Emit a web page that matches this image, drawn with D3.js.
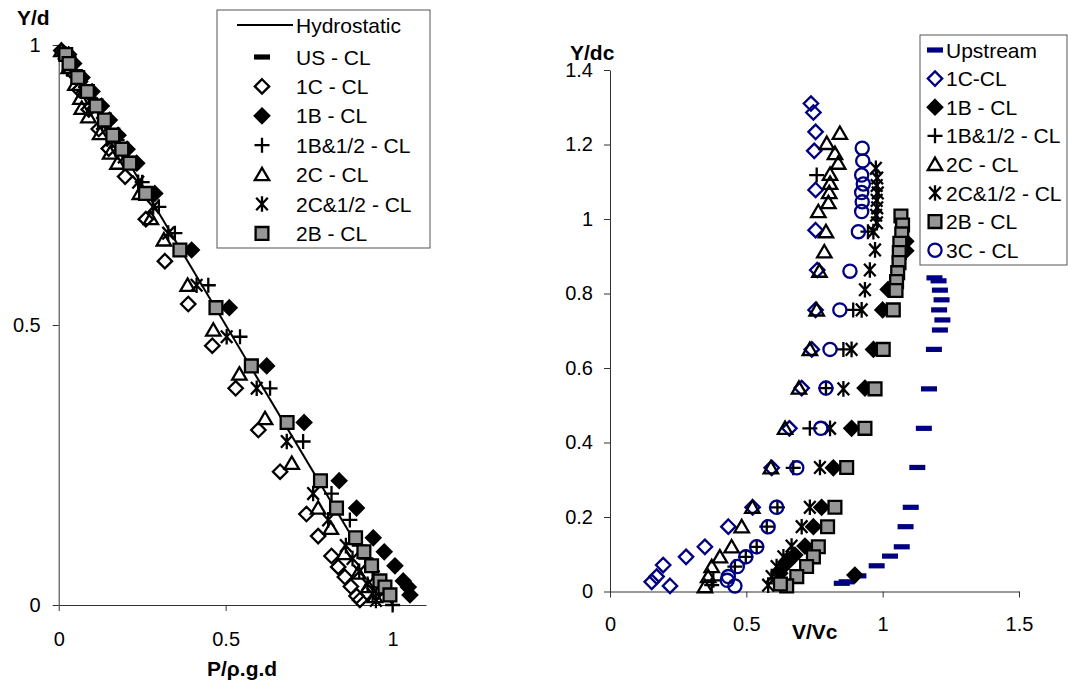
<!DOCTYPE html>
<html>
<head>
<meta charset="utf-8">
<script src="https://cdn.jsdelivr.net/npm/d3@7"></script>
<style>
  body { margin: 0; background: #fff; }
  text { font-family: "Liberation Sans", Arial, sans-serif; fill: #000; }
</style>
</head>
<body>
<svg id="chart" width="1068" height="690"></svg>
<script>
// ---------- left chart data : pressure (P/rho.g.d) vs Y/d ----------
let hydroP = [0, 1];
let hydroY = [1, 0];

let usclP = [];
let usclY = [];

let c1P = [0.008,0.035,0.062,0.09,0.12,0.15,0.199,0.261,0.318,0.388,0.46,0.53,0.598,0.663,0.742,0.777,0.817,0.837,0.857,0.875,0.892,0.902];
let c1Y = [0.99,0.955,0.92,0.885,0.85,0.815,0.765,0.689,0.614,0.5375,0.463,0.387,0.3125,0.238,0.1625,0.123,0.0875,0.068,0.05,0.033,0.016,0.009];

let b1P = [0.03,0.045,0.07,0.1,0.128,0.152,0.178,0.205,0.234,0.288,0.398,0.511,0.623,0.735,0.84,0.892,0.942,0.975,1.007,1.032,1.047,1.052];
let b1Y = [0.983,0.967,0.942,0.917,0.891,0.866,0.839,0.814,0.789,0.735,0.634,0.531,0.427,0.326,0.222,0.173,0.12,0.095,0.07,0.043,0.032,0.018];

let b1hP = [0.02,0.048,0.08,0.11,0.142,0.175,0.21,0.25,0.3,0.348,0.448,0.543,0.633,0.732,0.817,0.872,0.9,0.92,0.94,0.965,0.98,1.0];
let b1hY = [0.985,0.955,0.925,0.895,0.86,0.83,0.8,0.755,0.711,0.664,0.571,0.479,0.387,0.292,0.199,0.152,0.106,0.083,0.06,0.037,0.02,0.0];

let c2P = [0.008,0.03,0.05,0.065,0.069,0.089,0.124,0.154,0.176,0.243,0.276,0.315,0.386,0.463,0.541,0.618,0.698,0.777,0.815,0.855,0.897,0.927,0.947];
let c2Y = [0.99,0.96,0.93,0.905,0.887,0.872,0.842,0.807,0.789,0.735,0.69,0.652,0.571,0.491,0.4125,0.333,0.253,0.173,0.137,0.092,0.057,0.033,0.015];

let c2hP = [0.015,0.04,0.07,0.1,0.13,0.16,0.195,0.238,0.283,0.328,0.413,0.503,0.593,0.683,0.762,0.807,0.86,0.88,0.9,0.925,0.94,0.95];
let c2hY = [0.985,0.955,0.925,0.895,0.86,0.83,0.8,0.755,0.711,0.664,0.571,0.479,0.387,0.292,0.199,0.152,0.106,0.083,0.06,0.037,0.02,0.008];

let b2P = [0.021,0.031,0.057,0.086,0.112,0.137,0.162,0.189,0.213,0.26,0.363,0.471,0.577,0.684,0.784,0.832,0.889,0.914,0.937,0.962,0.977,0.992];
let b2Y = [0.983,0.967,0.942,0.917,0.891,0.866,0.839,0.814,0.789,0.735,0.634,0.531,0.427,0.326,0.222,0.173,0.12,0.095,0.07,0.043,0.032,0.018];

let leftXTicks = [0, 0.5, 1];
let leftXLabels = ["0", "0.5", "1"];
let leftYTicks = [0, 0.5, 1];
let leftYLabels = ["0", "0.5", "1"];

// ---------- right chart data : velocity (V/Vc) vs Y/dc ----------
let upV = [1.19,1.205,1.21,1.216,1.207,1.219,1.21,1.188,1.17,1.151,1.127,1.103,1.084,1.07,1.027,0.978,0.911,0.868,0.85];
let upY = [0.842,0.834,0.809,0.783,0.756,0.729,0.702,0.65,0.544,0.438,0.333,0.226,0.174,0.12,0.095,0.069,0.042,0.026,0.022];

let r1cV = [0.737,0.746,0.754,0.749,0.754,0.754,0.76,0.754,0.74,0.703,0.658,0.593,0.523,0.434,0.348,0.279,0.195,0.171,0.153,0.22];
let r1cY = [1.31,1.286,1.234,1.183,1.078,0.97,0.863,0.756,0.65,0.546,0.438,0.332,0.226,0.174,0.12,0.093,0.071,0.04,0.026,0.015];

let r1bV = [1.085,1.085,1.02,1.0,0.966,0.935,0.886,0.819,0.776,0.746,0.715,0.678,0.648,0.623,0.898];
let r1bY = [0.94,0.915,0.811,0.756,0.65,0.546,0.438,0.332,0.226,0.174,0.122,0.098,0.076,0.049,0.044];

let r1bhV = [0.758,0.946,0.892,0.856,0.792,0.733,0.672,0.614,0.575,0.538,0.498,0.458,0.379,0.373];
let r1bhY = [1.118,0.966,0.756,0.65,0.546,0.438,0.332,0.226,0.174,0.12,0.093,0.067,0.03,0.017];

let r2cV = [0.843,0.795,0.825,0.837,0.807,0.807,0.804,0.801,0.764,0.792,0.786,0.768,0.758,0.733,0.693,0.642,0.59,0.522,0.483,0.446,0.403,0.373,0.36,0.348];
let r2cY = [1.23,1.203,1.176,1.15,1.12,1.096,1.071,1.044,1.02,0.966,0.912,0.86,0.756,0.65,0.546,0.438,0.332,0.226,0.174,0.12,0.093,0.067,0.04,0.013];

let r2chV = [0.975,0.98,0.978,0.982,0.978,0.98,0.976,0.979,0.966,0.972,0.953,0.935,0.923,0.886,0.856,0.807,0.77,0.733,0.703,0.666,0.636,0.611,0.593,0.58];
let r2chY = [1.136,1.11,1.09,1.07,1.05,1.03,1.01,0.99,0.966,0.917,0.863,0.81,0.756,0.65,0.544,0.438,0.333,0.226,0.174,0.122,0.093,0.067,0.04,0.017];

let r2bV = [1.067,1.073,1.07,1.063,1.061,1.06,1.055,1.051,1.049,1.039,1.002,0.972,0.935,0.868,0.825,0.798,0.764,0.746,0.721,0.685,0.648,0.625];
let r2bY = [1.008,0.984,0.96,0.935,0.91,0.883,0.856,0.832,0.808,0.756,0.65,0.544,0.438,0.333,0.226,0.174,0.12,0.093,0.067,0.04,0.015,0.02];

let r3cV = [0.925,0.927,0.923,0.929,0.923,0.925,0.923,0.911,0.88,0.843,0.807,0.792,0.773,0.685,0.611,0.58,0.538,0.498,0.467,0.434,0.43,0.458];
let r3cY = [1.19,1.156,1.118,1.094,1.071,1.046,1.02,0.966,0.86,0.756,0.65,0.546,0.438,0.332,0.226,0.174,0.12,0.093,0.067,0.04,0.03,0.015];

let rightXTicks = [0, 0.5, 1, 1.5];
let rightXLabels = ["0", "0.5", "1", "1.5"];
let rightYTicks = [0, 0.2, 0.4, 0.6, 0.8, 1, 1.2, 1.4];
let rightYLabels = ["0", "0.2", "0.4", "0.6", "0.8", "1", "1.2", "1.4"];

let navy = "#000080";
let grey = "#969696";

// marker shapes, drawn centred on 0,0
function markerPath(type) {
  switch (type) {
    case "square":   return "M-6.4,-6.4H6.4V6.4H-6.4Z";
    case "diamond":  return "M0,-7.2L7.2,0L0,7.2L-7.2,0Z";
    case "triangle": return "M0,-6.8L7.2,5.6L-7.2,5.6Z";
    case "plus":     return "M-7.5,0H7.5M0,-7.5V7.5";
    case "star":     return "M-5.8,-6.3L5.8,6.3M5.8,-6.3L-5.8,6.3M0,-7.8V7.8";
    case "circle":   return "M-6.6,0A6.6,6.6 0 1,0 6.6,0A6.6,6.6 0 1,0 -6.6,0Z";
    case "dash":     return "M-8,-2.6H8V2.6H-8Z";
  }
}

let leftSeries = [
  {name: "US - CL",      x: usclP, y: usclY, shape: "dash",     fill: "#000", stroke: "none"},
  {name: "1C - CL",      x: c1P,   y: c1Y,   shape: "diamond",  fill: "none", stroke: "#000"},
  {name: "1B - CL",      x: b1P,   y: b1Y,   shape: "diamond",  fill: "#000", stroke: "#000"},
  {name: "1B&1/2 - CL",  x: b1hP,  y: b1hY,  shape: "plus",     fill: "none", stroke: "#000"},
  {name: "2C - CL",      x: c2P,   y: c2Y,   shape: "triangle", fill: "none", stroke: "#000"},
  {name: "2C&1/2 - CL",  x: c2hP,  y: c2hY,  shape: "star",     fill: "none", stroke: "#000"},
  {name: "2B - CL",      x: b2P,   y: b2Y,   shape: "square",   fill: grey,   stroke: "#000"}
];

let rightSeries = [
  {name: "Upstream",     x: upV,   y: upY,   shape: "dash",     fill: navy,   stroke: "none"},
  {name: "1C-CL",        x: r1cV,  y: r1cY,  shape: "diamond",  fill: "none", stroke: navy},
  {name: "1B - CL",      x: r1bV,  y: r1bY,  shape: "diamond",  fill: "#000", stroke: "#000"},
  {name: "1B&1/2 - CL",  x: r1bhV, y: r1bhY, shape: "plus",     fill: "none", stroke: "#000"},
  {name: "2C - CL",      x: r2cV,  y: r2cY,  shape: "triangle", fill: "none", stroke: "#000"},
  {name: "2C&1/2 - CL",  x: r2chV, y: r2chY, shape: "star",     fill: "none", stroke: "#000"},
  {name: "2B - CL",      x: r2bV,  y: r2bY,  shape: "square",   fill: grey,   stroke: "#000"},
  {name: "3C - CL",      x: r3cV,  y: r3cY,  shape: "circle",   fill: "none", stroke: navy}
];

let svg = d3.select("#chart");
svg.append("rect").attr("width", 1068).attr("height", 690).attr("fill", "#fff");

function drawAxes(xs, ys, xt, xl, yt, yl, xPad, yPad) {
  let gx = svg.append("g")
    .attr("transform", "translate(0," + ys.range()[0] + ")")
    .call(d3.axisBottom(xs).tickValues(xt).tickFormat((d, i) => xl[i])
      .tickSizeInner(6).tickSizeOuter(0).tickPadding(xPad));
  let gy = svg.append("g")
    .attr("transform", "translate(" + xs.range()[0] + ",0)")
    .call(d3.axisLeft(ys).tickValues(yt).tickFormat((d, i) => yl[i])
      .tickSizeInner(6).tickSizeOuter(0).tickPadding(yPad));
  [gx, gy].forEach(g => {
    g.selectAll("path, line").attr("stroke", "#333").attr("stroke-width", 1);
    g.selectAll("text").style("font-size", "20px").attr("fill", "#000")
      .style("font-family", "'Liberation Sans', Arial, sans-serif");
  });
}

function drawSeries(xs, ys, series) {
  series.forEach(s => {
    let pts = s.x.map((v, i) => [v, s.y[i]]);
    svg.append("g").selectAll("path").data(pts).enter().append("path")
      .attr("transform", d => "translate(" + xs(d[0]) + "," + ys(d[1]) + ")")
      .attr("d", markerPath(s.shape))
      .attr("fill", s.fill)
      .attr("stroke", s.stroke)
      .attr("stroke-width", 2.3);
  });
}

function drawLegend(box, items, symX, textX, rowYs, extraLine) {
  svg.append("rect").attr("x", box[0]).attr("y", box[1])
    .attr("width", box[2]).attr("height", box[3])
    .attr("fill", "#fff").attr("stroke", "#555").attr("stroke-width", 1);
  items.forEach((s, i) => {
    let yy = rowYs[i];
    if (s.line) {
      svg.append("line").attr("x1", extraLine[0]).attr("x2", extraLine[1])
        .attr("y1", yy).attr("y2", yy).attr("stroke", "#000").attr("stroke-width", 2);
    } else {
      svg.append("path").attr("transform", "translate(" + symX + "," + yy + ")")
        .attr("d", markerPath(s.shape)).attr("fill", s.fill)
        .attr("stroke", s.stroke).attr("stroke-width", 2.3);
    }
    svg.append("text").attr("x", textX).attr("y", yy).attr("dy", "0.36em")
      .style("font-size", "21px").text(s.name);
  });
}

// ---------- left chart ----------
let xL = d3.scaleLinear().domain([0, 1.1]).range([58.7, 426]);
let yL = d3.scaleLinear().domain([0, 1]).range([605, 45]);

drawAxes(xL, yL, leftXTicks, leftXLabels, leftYTicks, leftYLabels, 21, 12);

svg.append("path")
  .datum(hydroP.map((v, i) => [v, hydroY[i]]))
  .attr("d", d3.line().x(d => xL(d[0])).y(d => yL(d[1])))
  .attr("fill", "none").attr("stroke", "#000").attr("stroke-width", 2);

drawSeries(xL, yL, leftSeries);

let leftRows = [25].concat(leftSeries.map((s, i) => 57 + i * 29.4));
drawLegend([217, 10, 213, 238],
  [{name: "Hydrostatic", line: true}].concat(leftSeries),
  262, 296, leftRows, [237, 293]);

svg.append("text").attr("x", 17).attr("y", 25)
  .style("font-size", "21px").style("font-weight", "bold").text("Y/d");
svg.append("text").attr("x", 207).attr("y", 676)
  .style("font-size", "21px").style("font-weight", "bold").text("P/ρ.g.d");

// ---------- right chart ----------
let xR = d3.scaleLinear().domain([0, 1.5]).range([610, 1019]);
let yR = d3.scaleLinear().domain([0, 1.4]).range([591.5, 70]);

drawAxes(xR, yR, rightXTicks, rightXLabels, rightYTicks, rightYLabels, 19.5, 11);
drawSeries(xR, yR, rightSeries);

let rightRows = rightSeries.map((s, i) => 50 + i * 28.6);
drawLegend([920, 35, 147, 230], rightSeries, 935, 946, rightRows, null);

svg.append("text").attr("x", 570).attr("y", 60)
  .style("font-size", "21px").style("font-weight", "bold").text("Y/dc");
svg.append("text").attr("x", 792).attr("y", 639)
  .style("font-size", "21px").style("font-weight", "bold").text("V/Vc");
</script>
</body>
</html>
